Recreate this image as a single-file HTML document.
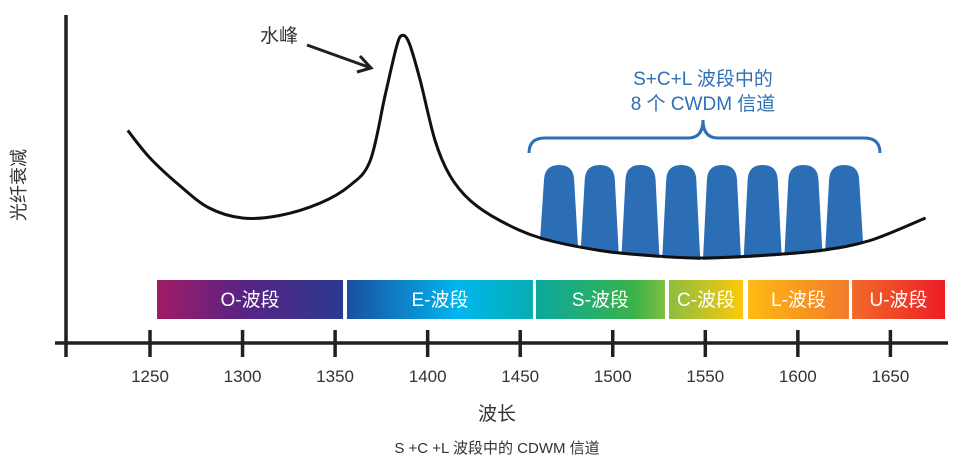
<!DOCTYPE html>
<html><head><meta charset="utf-8"><style>
html,body{margin:0;padding:0;background:#fff;}
svg{display:block;font-family:"Liberation Sans","Noto Sans CJK SC",sans-serif;}
</style></head><body>
<svg id="chart" width="955" height="461" viewBox="0 0 955 461">
<defs>
<linearGradient id="gO" x1="0" x2="1"><stop offset="0" stop-color="#a01c64"/><stop offset="0.45" stop-color="#5b2383"/><stop offset="1" stop-color="#2b3990"/></linearGradient>
<linearGradient id="gE" x1="0" x2="1"><stop offset="0" stop-color="#1b4fa0"/><stop offset="0.6" stop-color="#00b6ef"/><stop offset="1" stop-color="#06aeb0"/></linearGradient>
<linearGradient id="gS" x1="0" x2="1"><stop offset="0" stop-color="#0aa89e"/><stop offset="0.75" stop-color="#39b24a"/><stop offset="1" stop-color="#7cbf40"/></linearGradient>
<linearGradient id="gC" x1="0" x2="1"><stop offset="0" stop-color="#8cbd3f"/><stop offset="1" stop-color="#fcc90b"/></linearGradient>
<linearGradient id="gL" x1="0" x2="1"><stop offset="0" stop-color="#fdbb13"/><stop offset="1" stop-color="#f37a2a"/></linearGradient>
<linearGradient id="gU" x1="0" x2="1"><stop offset="0" stop-color="#f26a2a"/><stop offset="1" stop-color="#ee1c25"/></linearGradient>
</defs>
<g id="bands"></g>
<g id="channels"></g>
<path id="curve" fill="none" stroke="#111" stroke-width="3"/>
<line x1="66" y1="15" x2="66" y2="357" stroke="#231f20" stroke-width="3.5"/>
<line x1="55" y1="343" x2="948" y2="343" stroke="#231f20" stroke-width="3.5"/>
<g id="ticks"></g>
<text x="0" y="0" transform="translate(25,185) rotate(-90)" text-anchor="middle" font-size="18" fill="#333">光纤衰减</text>
<text x="497" y="420" text-anchor="middle" font-size="19" fill="#333">波长</text>
<text x="497" y="453" text-anchor="middle" font-size="15" fill="#333">S +C +L 波段中的 CDWM 信道</text>
<text x="279" y="42" text-anchor="middle" font-size="19" fill="#333">水峰</text>
<g stroke="#231f20" stroke-width="3" fill="none">
<line x1="307" y1="45" x2="371" y2="68"/><polyline points="360,56 371,68 357,72"/>
</g>
<text x="703" y="85" text-anchor="middle" font-size="19" fill="#2e6fb5">S+C+L 波段中的</text>
<text x="703" y="110" text-anchor="middle" font-size="19" fill="#2e6fb5">8 个 CWDM 信道</text>
<path d="M529,153 Q529,138 545,138 L688,138 Q703,138 703,120 Q703,138 718,138 L864,138 Q880,138 880,153" fill="none" stroke="#2e6fb5" stroke-width="3"/>
</svg>
<script>
const wavelengths=[1238,1250,1266,1282,1300,1320,1342,1358,1369,1377,1383,1386,1390,1396,1404,1412,1423,1439,1461,1493,1520,1547,1580,1612,1639,1669];
const attenuation=[0.85,0.74,0.63,0.54,0.50,0.51,0.56,0.63,0.73,0.99,1.18,1.23,1.20,1.05,0.81,0.67,0.57,0.49,0.42,0.37,0.35,0.34,0.35,0.37,0.41,0.50];
const tickLabels=[1250,1300,1350,1400,1450,1500,1550,1600,1650];
const bandNames=["O-波段","E-波段","S-波段","C-波段","L-波段","U-波段"];
const bandStart=[1253.8,1356.4,1458.5,1530.4,1573.1,1629.3];
const bandEnd=[1354.3,1456.9,1528.2,1570.4,1627.6,1679.5];
const channelWl=[1471,1493,1515,1537,1559,1581,1603,1625];
const NS="http://www.w3.org/2000/svg";
const xs=l=>150+(l-1250)*1.851;
const ys=v=>343-v*250;
function interp(l){for(let i=0;i<wavelengths.length-1;i++){if(l>=wavelengths[i]&&l<=wavelengths[i+1]){const t=(l-wavelengths[i])/(wavelengths[i+1]-wavelengths[i]);return attenuation[i]+t*(attenuation[i+1]-attenuation[i]);}}return attenuation[attenuation.length-1];}
const P=wavelengths.map((w,i)=>[xs(w),ys(attenuation[i])]);
let d="M"+P[0][0]+","+P[0][1];
for(let i=0;i<P.length-1;i++){const p0=P[Math.max(0,i-1)],p1=P[i],p2=P[i+1],p3=P[Math.min(P.length-1,i+2)];
d+=" C"+(p1[0]+(p2[0]-p0[0])/6)+","+(p1[1]+(p2[1]-p0[1])/6)+" "+(p2[0]-(p3[0]-p1[0])/6)+","+(p2[1]-(p3[1]-p1[1])/6)+" "+p2[0]+","+p2[1];}
document.getElementById('curve').setAttribute('d',d);
const tg=document.getElementById('ticks');
tickLabels.forEach(t=>{const x=xs(t);
const ln=document.createElementNS(NS,'line');ln.setAttribute('x1',x);ln.setAttribute('x2',x);ln.setAttribute('y1',330);ln.setAttribute('y2',357);ln.setAttribute('stroke','#231f20');ln.setAttribute('stroke-width',3.5);


tg.appendChild(ln);
const tx=document.createElementNS(NS,'text');tx.setAttribute('x',x);tx.setAttribute('y',382);tx.setAttribute('text-anchor','middle');tx.setAttribute('font-size',17);tx.setAttribute('fill','#333');tx.textContent=t;


tg.appendChild(tx);});
const bg=document.getElementById('bands');const grads=['gO','gE','gS','gC','gL','gU'];
bandNames.forEach((n,i)=>{const x0=xs(bandStart[i]),x1=xs(bandEnd[i]);
const r=document.createElementNS(NS,'rect');r.setAttribute('x',x0);r.setAttribute('y',280);r.setAttribute('width',x1-x0);r.setAttribute('height',39);r.setAttribute('fill','url(#'+grads[i]+')');


bg.appendChild(r);
const t=document.createElementNS(NS,'text');t.setAttribute('x',(x0+x1)/2);t.setAttribute('y',306);t.setAttribute('text-anchor','middle');t.setAttribute('font-size',19);t.setAttribute('fill','#fff');t.textContent=n;


bg.appendChild(t);});
const cg=document.getElementById('channels');
channelWl.forEach(w=>{const cx=xs(w);const top=165;
const yl=ys(interp(w-19/1.851))+2, yr=ys(interp(w+19/1.851))+2;
const p=document.createElementNS(NS,'path');
p.setAttribute('d',`M${cx-19},${yl} L${cx-15},${top+14} Q${cx-14},${top} ${cx},${top} Q${cx+14},${top} ${cx+15},${top+14} L${cx+19},${yr} Z`);
p.setAttribute('fill','#2b6eb5');


cg.appendChild(p);});
</script>
</body></html>
